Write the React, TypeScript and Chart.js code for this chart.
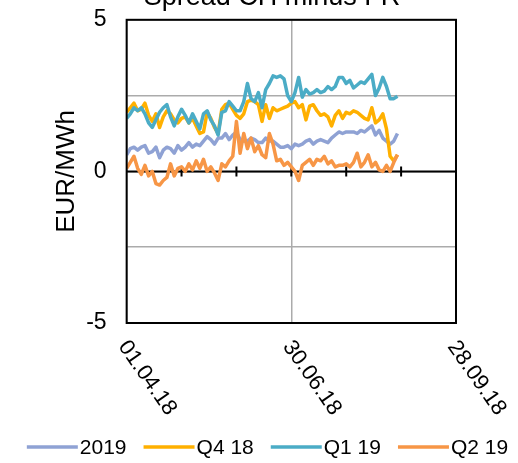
import { useEffect, useRef } from 'react';
import { Chart, registerables } from 'chart.js';

Chart.register(...registerables);

const FONT = "'Liberation Sans', Arial, sans-serif";

const chartTitle = 'Spread CH minus FR';
const yAxisTitle = 'EUR/MWh';
const seriesNames = ['2019', 'Q4 18', 'Q1 19', 'Q2 19'];
const seriesColors = ['#8FA2D4', '#FFB000', '#4BACC6', '#F79646'];

// days since 01.04.18
const days = [
  0, 2, 4, 6, 8, 10, 12, 14, 16, 18,
  20, 22, 24, 26, 28, 30, 32, 34, 36, 38,
  40, 42, 44, 46, 48, 50, 52, 54, 56, 58,
  60, 62, 64, 66, 68, 70, 72, 74, 76, 78,
  80, 82, 84, 86, 88, 90, 92, 94, 96, 98,
  100, 102, 104, 106, 108, 110, 112, 114, 116, 118,
  120, 122, 124, 126, 128, 130, 132, 134, 136, 138,
  140, 142, 144, 146, 148,
];

const xTickDays = [0, 90, 180];
const xTickLabels = ['01.04.18', '30.06.18', '28.09.18'];

const s2019 = [
  0.55, 0.75, 0.8, 0.7, 0.8, 0.85, 0.6, 0.65, 0.8, 0.45,
  0.7, 0.8, 0.75, 0.6, 0.85, 0.7, 0.8, 0.95, 0.8, 0.9,
  0.85, 1.0, 1.15, 1.05, 0.9, 1.1, 1.1, 1.25, 1.05, 1.2,
  1.3, 1.05, 1.0, 1.0, 1.1, 1.05, 0.95, 0.95, 1.1, 1.0,
  1.0, 0.9, 0.8, 0.8, 0.85, 0.75, 0.9, 0.85, 0.9, 1.0,
  1.05, 0.9, 1.0, 1.05, 1.0, 0.95, 1.1, 1.2, 1.3, 1.25,
  1.3, 1.3, 1.3, 1.25, 1.35, 1.3, 1.4, 1.5, 1.2, 1.35,
  1.1, 1.0, 0.9, 1.0, 1.25,
];

const sQ418 = [
  1.95, 2.1, 2.25, 2.0, 2.05, 2.25, 1.85, 1.65, 1.9, 1.45,
  1.8, 2.0, 1.9, 1.7, 1.6, 1.75, 1.8, 1.6, 1.75, 1.5,
  1.25, 1.3, 1.95, 1.75, 1.45, 1.25, 2.05, 2.2, 2.25, 2.05,
  1.85, 1.75, 1.9, 2.3, 2.35, 2.3, 2.2, 1.65, 2.2, 1.75,
  2.1, 2.0, 2.05, 2.1, 2.15, 2.25, 2.3, 2.1, 2.2, 1.7,
  2.15, 2.2, 2.0, 1.85, 1.9, 1.8, 1.5, 1.85, 2.0, 1.75,
  1.95, 1.9, 2.0, 1.95, 1.85, 1.75, 1.7, 2.1, 1.6, 1.7,
  1.9, 1.4, 0.5, 0.35, 0.55,
];

const sQ119 = [
  1.75, 1.9, 2.1, 2.0, 2.1, 1.9, 1.6, 1.45, 1.7, 1.95,
  2.1, 2.2, 1.8, 1.5, 1.8, 2.05, 1.85, 1.6, 1.9, 1.65,
  1.4, 1.9, 2.0, 1.7, 1.5, 1.2, 1.95, 2.0, 2.3, 2.15,
  2.0, 2.0, 2.3, 2.9, 2.4, 2.3, 2.6, 2.1, 2.7, 2.9,
  3.15, 3.1, 3.15, 3.05, 2.5, 2.3, 2.6, 3.1, 2.45, 2.7,
  2.55, 2.6, 2.7, 2.6, 2.65, 2.8, 2.7, 2.8, 3.1, 3.1,
  2.9, 3.0, 2.75, 2.85, 2.95, 2.9, 3.05, 3.2, 2.5, 2.75,
  3.1, 2.8, 2.4, 2.4, 2.48,
];

const sQ219 = [
  0.1, 0.3, 0.5, 0.1, -0.1, 0.2, -0.15, 0.0, -0.4, -0.45,
  -0.3, -0.2, 0.25, -0.15, 0.1, 0.15, 0.0, 0.25, 0.05, 0.35,
  0.1, 0.4, 0.0, 0.15, -0.05, -0.3, 0.25, 0.15, 0.35, 0.5,
  1.65, 0.6, 1.25, 0.75, 1.1, 0.65, 0.85, 0.55, 0.45, 1.25,
  0.9, 0.35, 0.4, 0.2, 0.3, 0.15, 0.0, -0.3, 0.2, 0.3,
  0.4, 0.2, 0.4, 0.35, 0.5, 0.25, 0.35, 0.15, 0.2, 0.2,
  0.25, 0.15, 0.3, 0.6, 0.15, 0.3, 0.55, 0.15, 0.3, 0.05,
  0.0, 0.2, 0.0, 0.3, 0.55,
];

const seriesValues = [s2019, sQ418, sQ119, sQ219];

const GRID = '#ABABAB';
const SHIFT = 14; // canvas is moved up so the title is cut by the page edge

const customPlugin = {
  id: 'customDecor',
  beforeDatasetsDraw(chart: any) {
    const { ctx, chartArea, scales } = chart;
    const x = scales.x;
    const y = scales.y;
    const y0 = y.getPixelForValue(0);
    ctx.save();
    ctx.strokeStyle = '#000';
    ctx.lineWidth = 2;
    ctx.beginPath();
    ctx.moveTo(chartArea.left, y0);
    ctx.lineTo(chartArea.right, y0);
    for (let d = 30; d < 180; d += 30) {
      const px = x.getPixelForValue(d);
      ctx.moveTo(px, y0 - 5);
      ctx.lineTo(px, y0 + 5);
    }
    ctx.stroke();
    ctx.restore();
  },
  afterDraw(chart: any) {
    const { ctx, chartArea, scales } = chart;
    const x = scales.x;
    ctx.save();
    // frame
    ctx.strokeStyle = '#000';
    ctx.lineWidth = 2;
    ctx.strokeRect(chartArea.left, chartArea.top, chartArea.right - chartArea.left, chartArea.bottom - chartArea.top);

    // rotated x labels
    ctx.fillStyle = '#000';
    ctx.font = `22px ${FONT}`;
    ctx.textAlign = 'left';
    ctx.textBaseline = 'middle';
    xTickDays.forEach((d, i) => {
      const px = x.getPixelForValue(d);
      ctx.save();
      ctx.translate(px - 4, chartArea.bottom + 20);
      ctx.rotate((55 * Math.PI) / 180);
      ctx.fillText(xTickLabels[i], 0, 0);
      ctx.restore();
    });

    // title (partly outside the top edge)
    ctx.font = `27px ${FONT}`;
    ctx.textAlign = 'center';
    ctx.textBaseline = 'alphabetic';
    ctx.fillText(chartTitle, 272, 5 + SHIFT);

    // legend
    ctx.font = `21px ${FONT}`;
    ctx.textAlign = 'left';
    ctx.textBaseline = 'middle';
    const lineLen = 51;
    const gapText = 2;
    const itemGap = 17;
    const widths = seriesNames.map((n) => lineLen + gapText + ctx.measureText(n).width);
    const total = widths.reduce((a, b) => a + b, 0) + itemGap * (seriesNames.length - 1);
    let lx = 267.5 - total / 2;
    const ly = 447 + SHIFT;
    seriesNames.forEach((n, i) => {
      ctx.strokeStyle = seriesColors[i];
      ctx.lineWidth = 3.5;
      ctx.beginPath();
      ctx.moveTo(lx, ly);
      ctx.lineTo(lx + lineLen, ly);
      ctx.stroke();
      ctx.fillStyle = '#000';
      ctx.fillText(n, lx + lineLen + gapText, ly + 1);
      lx += widths[i] + itemGap;
    });
    ctx.restore();
  },
};

export default function App() {
  const ref = useRef<HTMLCanvasElement | null>(null);

  useEffect(() => {
    if (!ref.current) return;
    const datasets = seriesNames.map((name, i) => ({
      label: name,
      data: days.map((d, j) => ({ x: d, y: seriesValues[i][j] })),
      borderColor: seriesColors[i],
      backgroundColor: seriesColors[i],
      borderWidth: 3.5,
      pointRadius: 0,
      tension: 0,
      borderJoinStyle: 'round' as const,
      order: seriesNames.length - i,
    }));
    const chart = new Chart(ref.current, {
      type: 'line',
      data: { datasets },
      plugins: [customPlugin],
      options: {
        responsive: false,
        animation: false,
        devicePixelRatio: 1,
        layout: { padding: { left: 47, right: 62, top: 4, bottom: 140 } },
        plugins: {
          legend: { display: false },
          title: { display: false },
          tooltip: { enabled: false },
        },
        scales: {
          x: {
            type: 'linear',
            min: 0,
            max: 180,
            ticks: { display: false, stepSize: 90 },
            grid: { color: GRID, lineWidth: 1.5, drawTicks: false },
            border: { display: false },
          },
          y: {
            min: -5,
            max: 5,
            ticks: {
              stepSize: 2.5,
              padding: 20,
              color: '#000',
              font: { family: FONT, size: 23 },
              callback: (v: any) => (Number(v) % 5 === 0 ? String(v) : ''),
            },
            grid: { color: GRID, lineWidth: 1.5, drawTicks: false },
            border: { display: false },
            title: {
              display: true,
              text: yAxisTitle,
              color: '#000',
              font: { family: FONT, size: 26 },
              padding: { top: 4, bottom: -16 },
            },
          },
        },
      },
    });
    return () => chart.destroy();
  }, []);

  return (
    <div style={{ position: 'absolute', left: 0, top: -SHIFT, width: 518, height: 463 + SHIFT }}>
      <canvas ref={ref} width={518} height={463 + SHIFT} style={{ display: 'block', width: 518, height: 463 + SHIFT }} />
    </div>
  );
}
